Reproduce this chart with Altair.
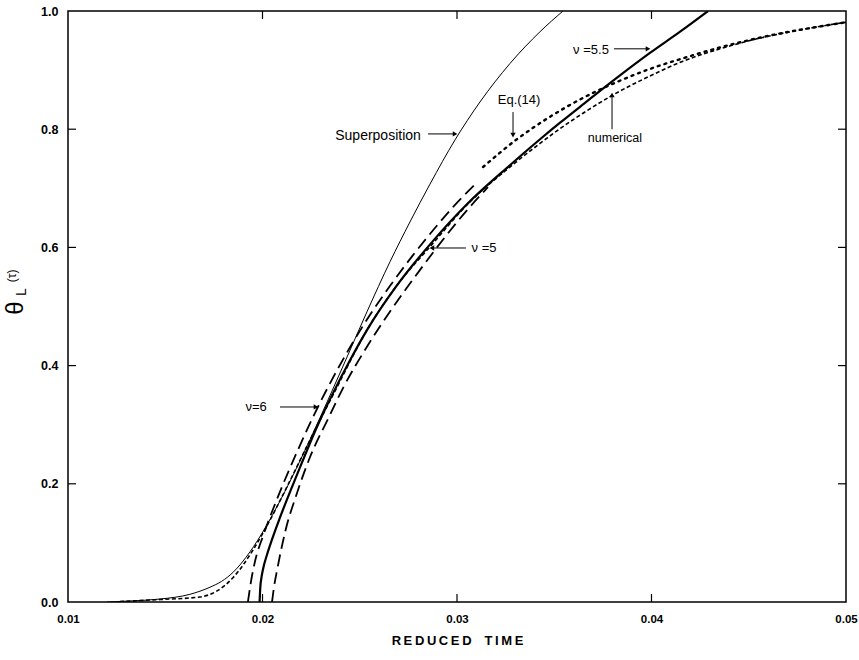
import altair as alt
import pandas as pd

# ---- data ----
sup_t = [0.01200, 0.01319, 0.01473, 0.01627, 0.01730, 0.01790, 0.01848, 0.01936, 0.02013, 0.02090,
         0.02193, 0.02296, 0.02414, 0.02537, 0.02656, 0.02758, 0.02861, 0.02990, 0.03118, 0.03272,
         0.03427, 0.03545]
sup_y = [0.0, 0.0017, 0.005, 0.013, 0.025, 0.035, 0.050, 0.085, 0.125, 0.171,
         0.239, 0.312, 0.399, 0.491, 0.576, 0.643, 0.707, 0.782, 0.846, 0.911,
         0.965, 1.0]

num_t = [0.01267, 0.01473, 0.01679, 0.01848, 0.01951, 0.02003, 0.02126, 0.02244, 0.02362, 0.02537,
         0.02692, 0.02877, 0.03051, 0.03272, 0.03427, 0.03530, 0.03648, 0.03797, 0.03992, 0.04162,
         0.04352, 0.04506, 0.04764, 0.05]
num_y = [0.0008, 0.0042, 0.0085, 0.041, 0.088, 0.117, 0.195, 0.274, 0.350, 0.460,
         0.536, 0.607, 0.672, 0.736, 0.776, 0.801, 0.827, 0.857, 0.890, 0.915,
         0.936, 0.950, 0.968, 0.981]

n55_t = [0.01985, 0.01989, 0.01995, 0.02003, 0.02023, 0.02049, 0.02090, 0.02177, 0.02285, 0.02362,
         0.02450, 0.02537, 0.02692, 0.02877, 0.03051, 0.03272, 0.03427, 0.03530, 0.03648, 0.03838,
         0.03992, 0.04147, 0.04291]
n55_y = [0.0, 0.026, 0.042, 0.056, 0.080, 0.106, 0.143, 0.215, 0.300, 0.353,
         0.409, 0.460, 0.536, 0.611, 0.673, 0.739, 0.783, 0.811, 0.842, 0.891,
         0.929, 0.965, 1.0]

n6_t = [0.01925, 0.01941, 0.01961, 0.02003, 0.02054, 0.02131, 0.02183, 0.02254, 0.02347, 0.02450,
        0.02553, 0.02656, 0.02774, 0.02877, 0.02979, 0.03103]
n6_y = [0.0, 0.035, 0.068, 0.112, 0.157, 0.219, 0.258, 0.309, 0.370, 0.431,
        0.486, 0.535, 0.587, 0.629, 0.668, 0.710]

n5_t = [0.02049, 0.02059, 0.02075, 0.02116, 0.02177, 0.02244, 0.02337, 0.02414, 0.02537, 0.02640,
        0.02743, 0.02810, 0.02897, 0.03031, 0.03159]
n5_y = [0.0, 0.025, 0.054, 0.118, 0.184, 0.245, 0.310, 0.362, 0.432, 0.484,
        0.532, 0.562, 0.600, 0.655, 0.702]

eq_t = [0.03134, 0.03308, 0.03478, 0.03648, 0.03823, 0.03992, 0.04162, 0.04337, 0.04506, 0.04676, 0.04851, 0.05]
eq_y = [0.736, 0.783, 0.821, 0.853, 0.880, 0.902, 0.920, 0.937, 0.951, 0.963, 0.973, 0.981]

x_tick_values = [0.01, 0.02, 0.03, 0.04, 0.05]
y_tick_values = [0.0, 0.2, 0.4, 0.6, 0.8, 1.0]
x_inner_ticks = [0.02, 0.03, 0.04]
y_inner_ticks = [0.2, 0.4, 0.6, 0.8]

labels = ["Superposition", "Eq.(14)", "numerical", "\u03bd =5.5", "\u03bd =5", "\u03bd=6"]
label_t = [0.02594, 0.03319, 0.03812, 0.03689, 0.03139, 0.01967]
label_y = [0.789, 0.849, 0.785, 0.934, 0.599, 0.330]
label_size = [14, 13, 12.5, 13, 13, 13]

# arrows: start -> tip
arr_t1 = [0.02851, 0.03288, 0.03797, 0.03807, 0.03046, 0.02090]
arr_y1 = [0.792, 0.829, 0.800, 0.936, 0.599, 0.330]
arr_t2 = [0.02990, 0.03288, 0.03797, 0.03982, 0.02871, 0.02275]
arr_y2 = [0.792, 0.790, 0.858, 0.936, 0.599, 0.330]
arr_shape = ["triangle-right", "triangle-down", "triangle-up", "triangle-right", "triangle-left", "triangle-right"]

FONT = "Liberation Sans"
W, H = 778, 591

xscale = alt.Scale(domain=[0.01, 0.05], nice=False, zero=False)
yscale = alt.Scale(domain=[0.0, 1.0], nice=False, zero=False)

xaxis = alt.Axis(values=x_tick_values, format=".2f", ticks=False, domain=False, grid=False,
                 labelFont=FONT, labelFontSize=11.5, labelFontWeight="bold", labelColor="black",
                 labelPadding=11, labelFlush=False, labelOverlap=False,
                 title="R\u2009E\u2009D\u2009U\u2009C\u2009E\u2009D\u2003T\u2009I\u2009M\u2009E",
                 titleFont=FONT, titleFontSize=13, titleFontWeight="bold", titleColor="black",
                 titlePadding=10)
yaxis = alt.Axis(values=y_tick_values, format=".1f", ticks=False, domain=False, grid=False,
                 labelFont=FONT, labelFontSize=12.5, labelFontWeight="bold", labelColor="black",
                 labelPadding=10, labelFlush=False, labelOverlap=False, title=None)

X = alt.X("t:Q", scale=xscale, axis=xaxis)
Y = alt.Y("theta:Q", scale=yscale, axis=yaxis)


def curve(ts, ys, width, dash=None, cap="butt"):
    df = pd.DataFrame({"t": ts, "theta": ys})
    kw = dict(color="black", strokeWidth=width, interpolate="monotone", clip=True, strokeCap=cap)
    if dash:
        kw["strokeDash"] = dash
    return alt.Chart(df).mark_line(**kw).encode(x=X, y=Y)


layers = [
    curve(sup_t, sup_y, 1.0),
    curve(num_t, num_y, 1.6, [4, 2.5]),
    curve(n55_t, n55_y, 2.2),
    curve(n6_t, n6_y, 1.8, [12, 6]),
    curve(n5_t, n5_y, 1.8, [12, 6]),
    curve(eq_t, eq_y, 2.4, [2, 5], "round"),
]

# inward ticks on all four sides
xt = pd.DataFrame({"t": x_inner_ticks})
yt = pd.DataFrame({"theta": y_inner_ticks})
tick_style = dict(color="black", strokeWidth=1.2)
layers += [
    alt.Chart(xt).mark_rule(**tick_style).encode(x=X, y=alt.value(H), y2=alt.value(H - 8)),
    alt.Chart(xt).mark_rule(**tick_style).encode(x=X, y=alt.value(0), y2=alt.value(8)),
    alt.Chart(yt).mark_rule(**tick_style).encode(y=Y, x=alt.value(0), x2=alt.value(8)),
    alt.Chart(yt).mark_rule(**tick_style).encode(y=Y, x=alt.value(W), x2=alt.value(W - 8)),
]

# annotations
ann = pd.DataFrame({"t": label_t, "theta": label_y, "label": labels, "size": label_size})
layers.append(
    alt.Chart(ann).mark_text(font=FONT, color="black", align="center", baseline="middle").encode(
        x=X, y=Y, text="label:N", size=alt.Size("size:Q", scale=None, legend=None))
)
arr = pd.DataFrame({"t": arr_t1, "theta": arr_y1, "t2": arr_t2, "theta2": arr_y2})
layers.append(
    alt.Chart(arr).mark_rule(color="black", strokeWidth=1.0).encode(x=X, y=Y, x2="t2:Q", y2="theta2:Q")
)
heads = pd.DataFrame({"t": arr_t2, "theta": arr_y2, "shape": arr_shape})
layers.append(
    alt.Chart(heads).mark_point(filled=True, color="black", size=28, opacity=1).encode(
        x=X, y=Y, shape=alt.Shape("shape:N", scale=None, legend=None))
)

# y-axis title  theta_L (tau)
ytitle_txt = ["\u03b8", "L", "(\u03c4)"]
ytitle_px = [-52, -46, -56]
ytitle_py = [297, 281, 265]
ytitle_fs = [24, 14, 12]
for i in range(3):
    layers.append(
        alt.Chart(pd.DataFrame({"txt": [ytitle_txt[i]]})).mark_text(
            font=FONT, color="black", angle=270, align="center", baseline="middle",
            fontSize=ytitle_fs[i]).encode(
            text="txt:N", x=alt.value(ytitle_px[i]), y=alt.value(ytitle_py[i]))
    )

chart = alt.layer(*layers).properties(
    width=W, height=H,
    autosize=alt.AutoSizeParams(type="none"),
    padding={"left": 68, "top": 11, "right": 13, "bottom": 58},
    background="white",
).configure_view(stroke="black", strokeWidth=1.5)

chart.save("out.html", embed_options={"renderer": "svg", "actions": False})
